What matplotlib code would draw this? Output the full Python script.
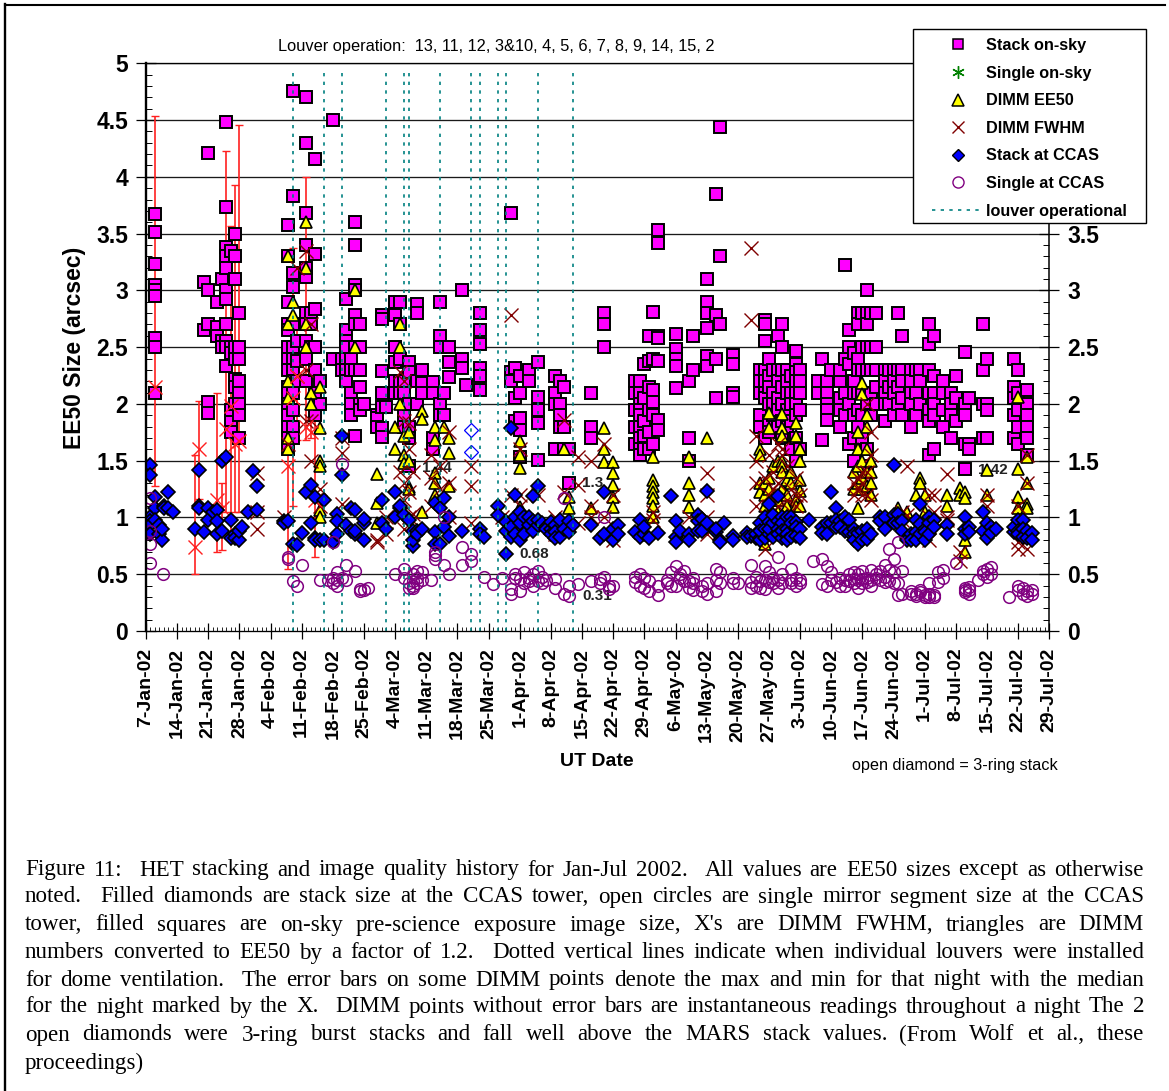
import matplotlib
matplotlib.use("Agg")
import matplotlib.pyplot as plt
from matplotlib.lines import Line2D
from matplotlib.patches import Rectangle

W, H = 1169, 1091

# x values are days after 7-Jan-02, each entry is (day, [values that night])
stack_sky = [
    (2, [3.67, 3.51, 3.23, 3.05, 3.0, 2.95, 2.58, 2.5, 2.1]),
    (13, [3.07, 2.65]), (14, [4.21, 3.0, 2.7, 2.02, 1.92]), (16, [2.9, 2.68, 2.6]),
    (17, [3.1, 2.55, 2.5]), (18, [4.48, 3.73, 3.38, 3.3, 3.2, 3.0, 2.92, 2.7, 2.55, 2.33, 2.5]),
    (19, [3.35, 2.5, 2.45, 1.85, 1.75, 1.95]), (20, [3.5, 3.3, 3.1, 2.5, 2.4, 2.22, 2.15, 2.0]),
    (21, [2.8, 2.5, 2.4, 2.2, 2.1, 2.0, 1.9, 1.7]),
    (32, [3.58, 3.3, 2.9, 2.7, 2.65, 2.5, 2.4, 2.3, 2.15, 2.1, 2.0, 1.9, 1.8, 1.7, 1.6]),
    (33, [4.76, 3.83, 3.15, 3.03, 2.7, 2.5, 2.4, 2.3, 2.2, 2.1, 1.95, 1.8, 1.7]),
    (34, [2.55, 2.38, 2.2]), (36, [4.7, 4.3, 3.68, 3.4, 3.2, 3.12, 2.8, 2.7, 2.55, 2.4, 2.2]),
    (37, [2.8, 2.7, 2.5]), (38, [4.16, 3.32, 2.84, 2.5, 2.3, 2.1, 1.9]), (39, [2.2, 2.0]),
    (42, [4.5, 2.4]), (44, [2.4, 2.3]), (45, [2.92, 2.65, 2.55, 2.5, 2.4, 2.3, 2.2]),
    (46, [2.4, 2.3, 2.1, 2.0, 1.9]), (47, [3.6, 3.4, 3.05, 3.0, 2.78, 2.7, 2.5, 2.3, 1.72]),
    (48, [2.7, 2.5, 2.3, 2.15, 2.0, 1.95]), (49, [2.0]),
    (52, [1.9, 1.88, 1.8]), (53, [2.78, 2.75, 2.29, 2.1, 1.97, 1.79, 1.71]), (54, [1.97]),
    (56, [2.9, 2.78, 2.5, 2.37, 2.2, 2.1]), (57, [2.9, 2.7, 2.4, 2.2, 2.1]),
    (58, [2.2, 2.1, 1.9, 1.8]), (59, [2.37, 2.28, 2.0, 1.8, 1.7, 1.45]), (61, [2.88, 2.8, 2.2, 2.0]),
    (62, [2.3, 2.18, 2.1]), (64.5, [2.19, 2.1, 1.7, 1.6]), (66, [2.9, 2.6, 2.5, 2.0, 1.9]),
    (67, [1.9, 2.1]), (68, [2.5, 2.37, 2.24]), (71, [3.0, 2.4, 2.32]), (72, [2.17]),
    (75, [2.8, 2.65, 2.53, 2.32, 2.25, 2.12]), (82, [3.68, 2.28, 2.2]), (83, [2.32, 2.05, 1.85]),
    (84, [2.25, 2.1, 1.88, 1.77, 1.53]), (86, [2.3, 2.2]), (88, [2.37, 2.06, 1.95, 1.83, 1.51]),
    (92, [2.25, 2.1, 2.0, 1.6]), (93, [2.2, 2.0, 1.9, 1.8]), (94, [2.15, 1.8, 1.6]),
    (95, [1.6, 1.3]), (100, [2.1, 1.8, 1.7]), (103, [2.8, 2.7, 2.5]),
    (110, [2.2, 2.1, 1.95, 1.8, 1.65]), (111, [2.2, 2.1, 2.0, 1.95, 1.9, 1.8, 1.7, 1.6, 1.55]),
    (112, [2.35, 2.05, 1.85, 1.72, 1.6]), (113, [2.6, 2.38, 2.15, 1.95, 1.75, 1.6]),
    (114, [2.81, 2.4, 2.12, 2.02, 1.9, 1.65]), (115, [3.53, 3.42, 2.6, 2.58, 2.38, 1.86, 1.77]),
    (119, [2.62, 2.48, 2.4, 2.33, 2.14]), (122, [2.2, 1.7, 1.5]), (123, [2.6, 2.3]),
    (126, [3.1, 2.9, 2.8, 2.67, 2.42, 2.33]), (128, [3.85, 2.78, 2.4, 2.05]), (129, [4.44, 3.3, 2.7]),
    (132, [2.43, 2.35, 2.1, 2.06]),
    (138, [2.3, 2.2, 2.1, 1.9, 1.8]), (139, [2.74, 2.7, 2.55, 2.3, 2.2, 2.1, 2.05, 1.7]),
    (140, [2.4, 2.25, 2.15, 2.0, 1.85, 1.75]), (141, [2.3, 2.1, 2.0, 1.9]),
    (142, [2.6, 2.3, 2.2, 2.05, 1.95, 1.8]), (143, [2.7, 2.5, 2.3, 2.15, 2.0, 1.85, 1.7]),
    (144, [2.3, 2.2, 2.1, 1.95, 1.8]), (145, [2.25, 2.1, 2.0, 1.85, 1.6]),
    (146, [2.47, 2.35, 2.28, 2.2, 2.1, 2.0, 1.9, 1.7, 1.5]), (147, [2.3, 2.2, 2.1, 1.95, 1.6]),
    (151, [2.1, 2.2]), (152, [2.4, 1.68]), (153, [2.2, 2.1, 2.0, 1.95, 1.86]), (154, [2.3]),
    (156, [2.2, 2.3, 2.05, 1.95, 1.8]), (157, [3.22, 2.4, 2.1, 1.9]), (158, [2.65, 2.5, 2.35, 2.0, 1.65]),
    (159, [2.45, 2.2, 2.1, 1.9, 1.7, 1.5]), (160, [2.8, 2.7, 2.4, 2.3, 2.1, 1.95, 1.8]),
    (161, [2.8, 2.5, 2.3, 2.1, 1.9, 1.7]), (162, [3.0, 2.8, 2.7, 2.5, 2.3, 2.0, 1.6, 1.45]),
    (163, [2.8, 2.5, 2.3, 2.1, 1.9]), (164, [2.8, 2.5, 2.3, 2.15, 2.0]),
    (166, [2.3, 2.2, 2.1, 2.0, 1.85]), (167, [2.3, 2.15, 2.0]), (168, [2.3, 2.2, 2.1, 1.9]),
    (169, [2.8, 2.3, 2.15, 2.0]), (170, [2.6, 2.3, 2.2, 2.05, 1.9]), (172, [2.3, 2.2, 2.1, 2.0, 1.8]),
    (173, [2.3, 2.1, 1.9]), (174, [2.3, 2.2, 2.0]), (176, [2.7, 2.53, 2.3, 2.1, 1.95, 1.85, 1.55]),
    (177, [2.6, 2.25, 2.1, 2.0, 1.9, 1.6]), (179, [2.2, 2.1, 1.95, 1.8]), (181, [2.1, 2.0, 1.9, 1.7]),
    (182, [2.25, 2.05, 1.85]), (184, [2.46, 2.0, 1.9, 1.65, 1.43]), (185, [2.05, 1.65, 1.6]),
    (188, [2.7, 2.3, 2.0, 1.7]), (189, [2.4, 2.0, 1.95, 1.7]),
    (195, [2.4, 2.15, 2.05, 1.9, 1.7]), (196, [2.3, 2.1, 1.95, 1.8, 1.65]),
    (198, [2.12, 2.0, 1.9, 1.8, 1.7, 1.55]),
]

dimm_ee50 = [
    (32, [3.3, 2.7, 2.2, 2.05, 1.7, 1.6]), (33, [2.9, 2.78]), (36, [3.6, 3.2, 2.7, 2.5]),
    (37, [2.1, 2.0]), (39, [2.15, 1.79, 1.5, 1.45, 1.07, 1.0]), (47, [3.0, 2.5]),
    (52, [1.38, 1.13, 0.95]), (56, [1.8, 1.6]), (57, [2.7, 2.5, 2.0]), (58, [1.72, 1.55, 1.48]),
    (59, [1.75, 1.5, 1.27, 1.25]), (62, [1.94, 1.87, 1.05]), (65, [1.8, 1.68, 1.39, 1.3, 1.2]),
    (67, [1.8]), (68, [1.7, 1.57, 1.28]), (84, [1.67, 1.55, 1.44, 1.09]), (94, [1.6]),
    (95, [1.18, 1.08]), (100, [1.08]), (103, [1.79, 1.6, 1.49]),
    (105, [1.49, 1.39, 1.29, 1.18, 1.09]), (114, [1.53, 1.33, 1.28, 1.22, 1.17, 1.1, 1.0]),
    (122, [1.53, 1.3, 1.2, 1.09]), (126, [1.7]), (125, [0.97]), (138, [1.6, 1.55, 1.3, 1.22]),
    (139, [1.3, 1.2, 1.1, 0.77]), (140, [1.92, 1.79, 1.35, 1.25]), (141, [1.45, 1.15]), (142, [1.5, 1.15, 1.05]),
    (143, [1.91, 1.79, 1.72, 1.5, 1.45, 1.4, 1.25]), (144, [1.33, 1.2, 1.1]), (145, [1.4, 1.3]),
    (146, [1.83, 1.72, 1.15, 1.1]), (147, [1.6, 1.5, 1.33, 1.23, 1.1]),
    (159, [1.4, 1.25]), (160, [1.75, 1.6, 1.45, 1.3, 1.08]), (161, [2.18, 2.09, 1.5, 1.35, 1.25]),
    (162, [1.9, 1.8, 1.6, 1.4, 1.28]), (163, [1.5, 1.4, 1.3, 1.2]), (169, [1.08]), (171, [1.05]),
    (174, [1.35, 1.3]), (173, [1.2]), (175, [1.2, 1.05]), (180, [1.2, 1.1]),
    (183, [1.26, 1.2]), (184, [1.22, 1.17, 0.8, 0.7]), (189, [1.42, 1.2]),
    (196, [2.06, 1.43, 1.18, 1.08]), (198, [1.53, 1.3, 1.12, 1.08]),
]

dimm_fwhm = [
    (25, [1.39, 1.05, 0.9]), (31, [1.0]), (32, [1.65]), (34, [3.2, 2.25]), (36, [3.35, 2.3, 1.85]),
    (37, [2.7, 1.85, 1.5]), (39, [1.25, 1.1]), (44, [1.7, 1.57, 1.12]), (52, [0.8, 0.78]),
    (54, [1.0, 0.85]), (57, [2.28, 1.4]), (58, [2.2, 1.85, 1.3, 1.15, 0.9]), (59, [1.83, 1.6, 1.22, 1.0]),
    (60, [1.4, 1.03]), (64, [1.55, 1.35, 1.1]), (66, [1.45, 1.25]), (68, [1.75, 1.3, 1.0]),
    (73, [1.45, 1.28, 0.95]), (80, [1.0]), (82, [2.78, 1.2, 0.98]), (84, [1.6, 1.2, 1.1, 0.9]),
    (88, [1.2]), (92, [1.0, 0.85]), (94, [1.86, 1.22]), (97, [1.53, 1.29, 0.95]), (100, [1.5, 1.1, 1.0]),
    (103, [1.65, 1.0]), (105, [1.2, 0.8]), (114, [1.05, 0.98]), (122, [1.0]), (126, [1.39, 1.2, 1.0, 0.85]),
    (136, [3.37, 2.74]), (137, [1.72, 1.5, 1.3, 1.1]), (139, [1.35, 0.72]), (140, [1.55, 1.2, 1.08]),
    (141, [1.4, 1.25]), (142, [1.65, 1.3, 1.1]), (143, [1.6, 1.55, 1.0]), (144, [1.45, 1.15]), (145, [1.25, 1.05]),
    (146, [1.35, 1.2, 1.1]), (147, [1.2]), (159, [1.3, 1.2]),
    (160, [1.35, 1.25]), (161, [1.4, 1.3, 1.2]), (162, [2.0, 1.4, 1.2]), (163, [1.75, 1.55, 1.15]),
    (170, [1.05, 0.98]), (171, [1.45, 1.02]), (174, [0.85]), (176, [1.2, 1.0, 0.8]),
    (177, [1.2, 1.05]), (180, [1.38, 1.0, 0.98]), (183, [0.7, 0.62]), (189, [1.2, 1.1]),
    (196, [1.1, 0.78, 0.72]), (198, [1.55, 1.3, 0.72]),
]

# red DIMM nights that carry max/min bars
bar_days = [2, 11, 12, 16, 17, 18, 19, 20, 21, 32, 33, 34, 36, 37, 38]
bar_med = [2.15, 0.74, 1.6, 1.15, 1.08, 1.78, 1.98, 1.65, 1.67, 1.45, 2.05, 2.25, 1.8, 1.75, 1.15]
bar_max = [4.54, 1.55, 2.03, 2.1, 1.3, 4.23, 3.57, 3.93, 4.46, 2.2, 3.37, 2.7, 4.0, 2.2, 2.2]
bar_min = [1.28, 0.5, 1.16, 0.7, 0.71, 1.05, 0.8, 1.05, 1.05, 0.55, 1.1, 1.68, 1.68, 1.7, 0.65]

stack_ccas = [
    (1, [1.46, 1.37, 1.0, 0.97, 0.93, 0.85]), (2, [1.18, 1.08, 0.98]), (3, [0.93, 0.85]), (3.5, [0.8, 0.9]),
    (4, [1.1, 1.08]), (5, [1.22, 1.08]), (6, [1.05]), (11, [0.9]), (12, [1.42, 1.1, 1.08]), (13, [0.87]),
    (14, [1.08, 0.98]), (15, [1.05]), (16, [0.85, 1.07, 0.97]), (17, [1.5, 0.88]), (18, [1.53]), (19, [0.98, 0.82]),
    (20, [0.85, 0.82]), (21, [0.8, 0.88]), (21.5, [0.92]), (23, [1.05]), (24, [1.41]), (25, [1.28, 1.07]),
    (31, [0.97, 0.95]), (32, [0.97]), (33, [0.77]), (34, [0.76]), (35, [0.86]), (36, [1.22]), (37, [0.95, 1.29]),
    (38, [1.18, 0.82, 0.8]), (39, [0.8]), (40, [1.15, 0.8]), (42, [0.78]), (43, [1.03, 0.85, 0.97]),
    (44, [1.72, 1.37]), (45, [0.93]), (46, [1.08, 0.88]), (47, [1.07, 0.85, 0.88]), (49, [0.8, 0.95, 0.99]),
    (53, [1.15, 0.95]), (54, [0.9]), (56, [1.22, 1.0]), (57, [1.08, 1.1]), (58, [1.02]), (59, [0.98]),
    (60, [0.75, 0.8, 0.88]), (61, [0.88, 0.85]), (62, [0.9]), (65, [1.13, 0.87, 0.77]), (66, [1.08, 0.77]),
    (67, [1.17, 0.92]), (68, [1.0, 0.84]), (71, [0.88]), (75, [0.9, 0.85]), (76, [0.83]), (79, [1.1, 1.02]),
    (81, [0.96, 0.88, 0.68]), (82, [1.79, 0.83, 0.92]), (83, [1.2, 1.0, 0.85]), (84, [1.05, 0.8, 0.95]), (85, [0.85, 1.0]),
    (86, [1.0, 0.93]), (87, [1.19, 0.97, 0.88]), (88, [1.28, 0.93, 0.98]), (89, [0.95]), (90, [0.92, 0.9]), (91, [0.9, 0.85, 0.96]),
    (92, [0.93, 0.87, 0.82]), (93, [0.98, 0.83]), (94, [0.9]), (95, [0.97, 0.87]), (96, [0.93]), (100, [0.93]), (102, [0.82]), (103, [1.22, 0.85]),
    (105, [0.8, 0.9]), (106, [0.93, 0.85]), (110, [0.87]), (111, [0.98, 0.83]), (112, [0.85, 0.92]),
    (113, [0.82]), (115, [0.86]), (118, [1.19]), (119, [0.97, 0.83, 0.78]), (120, [0.88]), (122, [0.85, 0.8]),
    (124, [1.02, 0.97, 0.88]), (125, [0.99, 0.88]), (126, [1.23, 0.95]), (128, [0.87, 0.9]), (129, [0.8, 0.78]),
    (130, [0.95]), (132, [0.84, 0.8]), (135, [0.86, 0.83]), (136, [0.84]), (137, [0.82, 0.85]),
    (138, [0.95, 0.82, 0.8, 0.88]), (139, [1.0, 0.9, 0.82]), (140, [1.12, 0.96, 0.85, 0.9]), (141, [0.95, 0.83, 1.02]),
    (142, [1.19, 0.97, 0.9, 0.85]), (143, [1.0, 0.95, 0.82, 0.88]), (144, [0.9, 0.85, 0.8, 1.0]), (145, [1.0, 0.95, 0.83]),
    (146, [0.96, 0.92, 0.84]), (147, [0.9, 0.82]), (149, [0.98]), (152, [0.92, 0.86]), (153, [0.95, 0.85]),
    (154, [1.22, 0.95]), (155, [1.08, 0.98, 0.92]), (156, [0.97, 0.92]), (157, [1.0, 0.88]), (158, [0.98, 0.87]),
    (159, [0.9, 0.85, 0.8]), (160, [0.86, 0.77]), (161, [0.88, 0.8]), (162, [0.9, 0.81]), (163, [0.85]),
    (165, [1.0, 0.97]), (166, [1.0, 0.9]), (168, [1.46, 1.02, 0.95]), (169, [1.03, 0.95]), (170, [0.97, 0.88]),
    (171, [0.82, 0.8]), (172, [0.85, 0.8]), (173, [0.98, 0.87, 0.8]), (174, [1.12, 0.94, 0.85]),
    (175, [0.9, 0.87, 0.8]), (176, [1.0, 0.95, 0.85]), (177, [0.98, 0.92]), (180, [0.93, 0.85]), (184, [1.0, 0.9, 0.85]),
    (185, [0.92, 0.87]), (188, [1.05, 0.88]), (189, [0.95, 0.82]), (190, [0.92, 0.86]), (191, [0.9]),
    (195, [0.87, 0.92]), (196, [0.98, 0.88, 0.85]), (197, [0.98, 0.9, 0.83]), (198, [0.88, 0.82]), (199, [0.86, 0.8]),
]

open_days = [73, 73]
open_vals = [1.77, 1.58]

single_ccas = [
    (1, [1.17, 0.88, 0.77, 0.6]), (3.8, [0.5]), (32, [0.65, 0.63]), (33, [0.44]), (34, [0.4]), (35, [0.58]),
    (39, [0.45]), (41, [0.45]), (42, [0.78, 0.47, 0.42]), (43, [0.52, 0.45, 0.4]), (44, [1.47, 0.47]),
    (45, [0.58, 0.45]), (47, [0.53]), (48, [0.37, 0.35]), (49, [0.36]), (50, [0.38]), (56, [0.5]),
    (58, [0.55, 0.47]), (59, [0.42, 0.38]), (60, [0.5, 0.44, 0.4, 0.38]), (61, [0.53, 0.47, 0.42]), (62, [0.52, 0.45]),
    (64, [0.45]), (65, [0.7, 0.67, 0.63]), (67, [0.58, 1.0]), (68, [0.5]), (71, [0.58, 0.74]), (73, [0.68, 0.62]),
    (76, [0.48]), (78, [0.41]), (80, [0.47]), (82, [0.37, 0.33]), (83, [0.47, 0.5]), (84, [0.46, 0.35]),
    (85, [0.52, 0.42]), (86, [0.44, 0.47]), (87, [0.5, 0.4]), (88, [0.53, 0.44]), (89, [0.48, 0.42]), (90, [0.45]),
    (92, [0.46, 0.38]), (94, [0.33, 1.17]), (95, [0.31, 0.4]), (97, [0.41]), (100, [0.44]), (102, [0.42, 0.46]),
    (103, [1.0, 0.48]), (104, [0.4, 0.37]), (105, [0.4]), (110, [0.48, 0.43]), (111, [0.4, 0.5]), (112, [0.38, 0.47]),
    (113, [0.35, 0.44]), (115, [0.4, 0.32]), (117, [0.45, 0.42]), (118, [0.52, 0.4]), (119, [0.57, 0.4]),
    (120, [0.47, 0.5]), (121, [0.53, 0.44]), (122, [0.44, 0.38]), (123, [0.47, 0.42, 0.36]), (125, [0.4, 0.35]),
    (126, [0.42, 0.33]), (128, [0.55, 0.45, 0.35]), (129, [0.52, 0.42]), (132, [0.47, 0.42]), (133, [0.42]),
    (136, [0.58, 0.43, 0.38]), (137, [0.48, 0.4]), (138, [0.44, 0.38]), (139, [0.57, 0.45, 0.37]), (140, [0.52, 0.43]),
    (141, [0.47, 0.42]), (142, [0.65, 0.45, 0.38]), (143, [0.5, 0.42]), (145, [0.55, 0.45, 0.42]),
    (146, [0.47, 0.4]), (147, [0.45, 0.42]), (150, [0.62]), (152, [0.63, 0.41]), (153, [0.57, 0.4]), (154, [0.52, 0.45]),
    (155, [0.43]), (156, [0.47, 0.4]), (157, [0.45, 0.4]), (158, [0.5, 0.44]), (159, [0.52, 0.46, 0.42]),
    (160, [0.5, 0.45, 0.38]), (161, [0.53, 0.46, 0.42]), (162, [0.47, 0.43]), (163, [0.54, 0.45, 0.4]),
    (164, [0.5, 0.47]), (165, [0.53, 0.45]), (166, [0.58, 0.48, 0.43]), (167, [0.72, 0.54, 0.44]),
    (168, [0.63, 0.52, 0.42]), (169, [0.78, 0.32, 0.42]), (170, [0.53, 0.33]), (172, [0.33, 0.35]),
    (173, [0.33, 0.31]), (174, [0.34, 0.36]), (175, [0.32, 0.3]), (176, [0.33, 0.42, 0.3]), (177, [0.3, 0.32]),
    (178, [0.52, 0.43]), (179, [0.54, 0.47]), (182, [0.6]), (184, [0.38, 0.34, 0.36]), (185, [0.39, 0.33, 0.36]),
    (187, [0.45]), (188, [0.53, 0.5]), (189, [0.48, 0.55]), (190, [0.56, 0.5]), (194, [0.3]), (196, [0.36, 0.4]),
    (197, [0.38, 0.33]), (198, [0.35, 0.31]), (199, [0.36, 0.33]),
]

louver_days = [33, 40, 44, 54, 58, 59, 66, 73, 75, 79, 81, 88, 96]

tick_labels = ["7-Jan-02", "14-Jan-02", "21-Jan-02", "28-Jan-02", "4-Feb-02", "11-Feb-02", "18-Feb-02",
               "25-Feb-02", "4-Mar-02", "11-Mar-02", "18-Mar-02", "25-Mar-02", "1-Apr-02", "8-Apr-02",
               "15-Apr-02", "22-Apr-02", "29-Apr-02", "6-May-02", "13-May-02", "20-May-02", "27-May-02",
               "3-Jun-02", "10-Jun-02", "17-Jun-02", "24-Jun-02", "1-Jul-02", "8-Jul-02", "15-Jul-02",
               "22-Jul-02", "29-Jul-02"]

note_text = ["1.44", "1.3", "0.68", "0.31", "1.42"]
note_days = [62, 98, 84, 98, 187]
note_vals = [1.44, 1.3, 0.68, 0.31, 1.42]

caption = [
    "Figure 11:  HET stacking and image quality history for Jan-Jul 2002.  All values are EE50 sizes except as otherwise",
    "noted.  Filled diamonds are stack size at the CCAS tower, open circles are single mirror segment size at the CCAS",
    "tower, filled squares are on-sky pre-science exposure image size, X's are DIMM FWHM, triangles are DIMM",
    "numbers converted to EE50 by a factor of 1.2.  Dotted vertical lines indicate when individual louvers were installed",
    "for dome ventilation.  The error bars on some DIMM points denote the max and min for that night with the median",
    "for the night marked by the X.  DIMM points without error bars are instantaneous readings throughout a night The 2",
    "open diamonds were 3-ring burst stacks and fall well above the MARS stack values. (From Wolf et al., these",
    "proceedings)",
]
caption_y = [870, 897, 925, 953, 980, 1007, 1035, 1063]


def flatten(nights):
    xs, ys = [], []
    for day, vals in nights:
        for v in vals:
            xs.append(day)
            ys.append(v)
    return xs, ys


def fx(px):
    return px / W


def fy(py):
    return 1 - py / H


def draw_caption(fig):
    renderer = fig.canvas.get_renderer()
    left, right = 25, 1144
    for i, (line, py) in enumerate(zip(caption, caption_y)):
        tokens = line.split(" ")
        words = [t for t in tokens if t]
        n_gaps = len(tokens) - 1
        items = []
        total = 0
        for w in words:
            t = fig.text(0, fy(py), w, family="Liberation Serif", fontsize=16.6, color="black", va="center")
            items.append(t)
            total += t.get_window_extent(renderer).width
        gap = (right - left - total) / n_gaps if i < len(caption) - 1 else 5.8
        x = left
        k = 0
        for tok in tokens:
            if tok:
                items[k].set_x(fx(x))
                x += items[k].get_window_extent(renderer).width
                k += 1
            x += gap


def main():
    plt.rcParams["font.family"] = ["Liberation Sans", "DejaVu Sans"]
    fig = plt.figure(figsize=(W / 100, H / 100), dpi=100)
    ax = fig.add_axes([fx(146), fy(631), (1049.3 - 146) / W, (631 - 63.3) / H])

    ax.set_xlim(0, 203)
    ax.set_ylim(0, 5)

    # grid first so all marks sit above it
    for v in [0.5, 1, 1.5, 2, 2.5, 3, 3.5, 4, 4.5, 5]:
        ax.axhline(v, color="#1a1a1a", lw=0.95, zorder=1)

    ax.errorbar(bar_days, bar_med, yerr=[[m - l for m, l in zip(bar_med, bar_min)],
                                         [h - m for m, h in zip(bar_med, bar_max)]],
                fmt="none", ecolor="#FF2020", elinewidth=1.2, capsize=3, capthick=1.0, zorder=2)

    sx, sy = flatten(stack_sky)
    ax.plot(sx, sy, ls="none", marker="s", ms=8.0, mfc="#FF00FF", mec="black", mew=1.4, zorder=3)

    for text, d, v in zip(note_text, note_days, note_vals):
        ax.text(d, v, text, fontsize=11, fontweight="bold", color="#222222", va="center", zorder=3.5)

    tx, ty = flatten(dimm_ee50)
    ax.plot(tx, ty, ls="none", marker="^", ms=9.2, mfc="#FFFF00", mec="black", mew=1.2, zorder=4)

    xx, xy = flatten(dimm_fwhm)
    ax.plot(xx, xy, ls="none", marker="x", ms=9.6, color="#800000", mew=1.0, zorder=5)
    ax.plot(bar_days, bar_med, ls="none", marker="x", ms=9.6, color="#FF2020", mew=1.0, zorder=5)

    dx, dy = flatten(stack_ccas)
    ax.plot(dx, dy, ls="none", marker="D", ms=6.7, mfc="#0000FF", mec="black", mew=1.2, zorder=6)
    ax.plot(open_days, open_vals, ls="none", marker="D", ms=6.7, mfc="white", mec="#0000FF", mew=0.9, zorder=6)

    cx, cy = flatten(single_ccas)
    ax.plot(cx, cy, ls="none", marker="o", ms=8.4, mfc="none", mec="#800080", mew=1.1, zorder=7)

    ax.vlines(louver_days, 0, 4.95, color="#008080", lw=1.2, linestyles=(0, (2, 3.2)), zorder=8)

    # axes
    ax.set_xticks(range(0, 204, 7))
    ax.set_xticks(range(0, 204), minor=True)
    ax.set_xticklabels(tick_labels, rotation=90, fontsize=14, fontweight="bold")
    ax.set_yticks([0, 0.5, 1, 1.5, 2, 2.5, 3, 3.5, 4, 4.5, 5])
    ax.set_yticklabels(["0", "0.5", "1", "1.5", "2", "2.5", "3", "3.5", "4", "4.5", "5"],
                       fontsize=16.5, fontweight="bold")
    ax.set_yticks([i / 10 for i in range(0, 51)], minor=True)
    ax.tick_params(axis="y", which="major", left=True, right=True, labelleft=True, labelright=True,
                   direction="inout", length=14, width=0.9, pad=6, zorder=9)
    ax.tick_params(axis="y", which="minor", left=True, right=True, direction="in", length=4.2, width=0.7)
    ax.tick_params(axis="x", which="major", direction="inout", length=11, width=0.9, pad=6.6)
    ax.tick_params(axis="x", which="minor", direction="in", length=3.2, width=0.6)
    ax.spines["left"].set_linewidth(1.7)
    ax.spines["right"].set_linewidth(1.1)
    ax.spines["top"].set_linewidth(0.95)
    ax.spines["bottom"].set_linewidth(0.95)
    for side in ["top", "bottom", "left", "right"]:
        ax.spines[side].set_zorder(9)

    # the legend box takes the place of the upper right hand labels
    for tick in ax.yaxis.get_major_ticks()[8:]:
        tick.label2.set_visible(False)

    fig.text(fx(74), fy(348), "EE50 Size (arcsec)", rotation=90, fontsize=16.5, fontweight="bold",
             ha="center", va="center")
    fig.text(fx(597), fy(761), "UT Date", fontsize=14, fontweight="bold", ha="center", va="center")
    fig.text(fx(496.5), fy(47), "Louver operation:  13, 11, 12, 3&10, 4, 5, 6, 7, 8, 9, 14, 15, 2",
             fontsize=11.8, ha="center", va="center")
    fig.text(fx(954.5), fy(765.5), "open diamond = 3-ring stack", fontsize=11.7, ha="center", va="center")

    box = Rectangle((fx(913), fy(223)), (1145.7 - 913) / W, (223 - 29) / H, transform=fig.transFigure,
                    facecolor="white", edgecolor="black", lw=1.0, zorder=20, clip_on=False)
    ax.add_patch(box)
    handles = [
        Line2D([], [], ls="none", marker="s", ms=7.5, mfc="#FF00FF", mec="black", mew=1.1),
        Line2D([], [], ls="none", marker=(6, 2, 0), ms=9, mec="green", mew=1.0),
        Line2D([], [], ls="none", marker="^", ms=8, mfc="#FFFF00", mec="black", mew=1.1),
        Line2D([], [], ls="none", marker="x", ms=8.5, color="#800000", mew=1.0),
        Line2D([], [], ls="none", marker="D", ms=6, mfc="#0000FF", mec="black", mew=1.0),
        Line2D([], [], ls="none", marker="o", ms=8, mfc="none", mec="#800080", mew=1.0),
        Line2D([], [], color="#008080", lw=1.2, ls=(0, (2, 3.2))),
    ]
    labels = ["Stack on-sky", "Single on-sky", "DIMM EE50", "DIMM FWHM", "Stack at CCAS", "Single at CCAS",
              "louver operational"]
    leg = ax.legend(handles, labels, loc="upper left", bbox_to_anchor=(fx(932), fy(38)),
                    bbox_transform=fig.transFigure, frameon=False, borderpad=0, borderaxespad=0,
                    handlelength=3.14, handletextpad=0.18, labelspacing=0.775,
                    prop={"weight": "bold", "size": 11.7})
    leg.set_zorder(21)

    # page frame
    fig.add_artist(Line2D([fx(5), fx(1165)], [fy(4.5), fy(4.5)], color="black", lw=1.5))
    fig.add_artist(Line2D([fx(5.3), fx(5.3)], [fy(4), fy(1091)], color="black", lw=1.7))

    draw_caption(fig)

    fig.savefig("out.png", dpi=100, facecolor="white")
    plt.close(fig)


if __name__ == "__main__":
    main()
